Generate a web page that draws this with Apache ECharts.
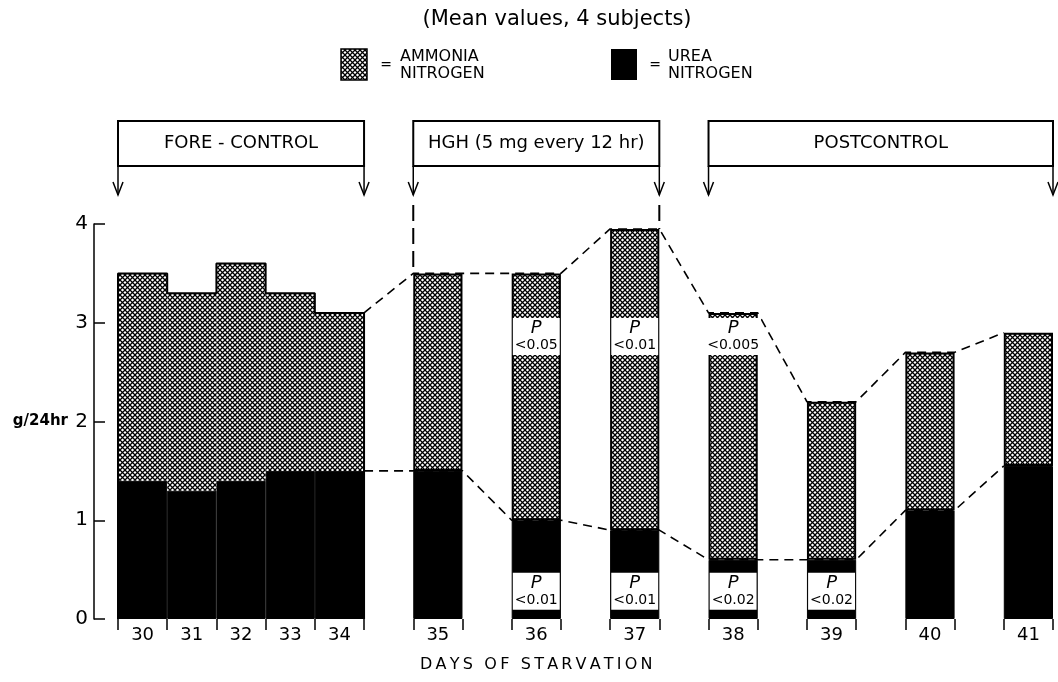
<!DOCTYPE html>
<html>
<head>
<meta charset="utf-8">
<script src="https://cdn.jsdelivr.net/npm/echarts@6/dist/echarts.min.js"></script>
<style>
  html, body { margin: 0; background: #fff; }
  #chart { width: 1058px; height: 682px; }
</style>
</head>
<body>
<div id="chart"></div>
<script>
'use strict';

// days of starvation, one bar each
const days = ['30', '31', '32', '33', '34', '35', '36', '37', '38', '39', '40', '41'];
// fore-control days sit side by side, every later day gets a gap before it
const foreControlDays = ['30', '31', '32', '33', '34'];
// top of each bar (total) and the urea part, g/24hr
const totalN = [3.5, 3.3, 3.6, 3.3, 3.1, 3.5, 3.5, 3.95, 3.1, 2.2, 2.7, 2.9];
const ureaN = [1.4, 1.3, 1.4, 1.5, 1.5, 1.5, 1.0, 0.9, 0.6, 0.6, 1.1, 1.55];

// P notes written on the bars
const pAmmoniaDays = ['36', '37', '38'];
const pAmmoniaText = ['<0.05', '<0.01', '<0.005'];
const pUreaDays = ['36', '37', '38', '39'];
const pUreaText = ['<0.01', '<0.01', '<0.02', '<0.02'];
const pAmmoniaLevel = 2.86;
const pUreaLevel = 0.28;

// periods drawn over the bars
const periodNames = ['FORE - CONTROL', 'HGH (5 mg every 12 hr)', 'POSTCONTROL'];
const periodFirst = ['30', '35', '38'];
const periodLast = ['34', '37', '41'];

const FONT = 'DejaVu Sans';

// crosshatch tile for ammonia
const tile = document.createElement('canvas');
tile.width = 5;
tile.height = 5;
(function() {
  const c = tile.getContext('2d');
  c.fillStyle = '#fff';
  c.fillRect(0, 0, 5, 5);
  c.strokeStyle = '#000';
  c.lineWidth = 1.25;
  c.beginPath();
  c.moveTo(0, 0); c.lineTo(5, 5);
  c.moveTo(5, 0); c.lineTo(0, 5);
  c.stroke();
})();
const hatch = { image: tile, repeat: 'repeat' };

// slots on the x axis (gaps are empty slots)
const slots = [];
const slotOf = {};
days.forEach(d => {
  if (slots.length && foreControlDays.indexOf(d) < 0) slots.push('gap' + slots.length);
  slotOf[d] = slots.length;
  slots.push(d);
});

const ureaData = slots.map(s => {
  const i = days.indexOf(s);
  return i < 0 ? '-' : ureaN[i];
});
const ammoniaData = slots.map(s => {
  const i = days.indexOf(s);
  if (i < 0) return '-';
  return {
    value: +(totalN[i] - ureaN[i]).toFixed(2),
    itemStyle: { borderWidth: foreControlDays.indexOf(s) < 0 ? 2 : 0 }
  };
});

// outline round the fore-control block
const outline = [];
foreControlDays.forEach((d, k) => {
  const i = days.indexOf(d);
  const s = slotOf[d];
  if (k === 0) outline.push([s - 0.5, 0]);
  outline.push([s - 0.5, totalN[i]], [s + 0.5, totalN[i]]);
  if (k === foreControlDays.length - 1) outline.push([s + 0.5, 0]);
});

// dashed joins from the last fore-control day on
function joins(vals) {
  const pts = [];
  const start = days.indexOf(foreControlDays[foreControlDays.length - 1]);
  for (let i = start; i < days.length; i++) {
    const s = slotOf[days[i]];
    if (i > start) pts.push([s - 0.5, vals[i]]);
    if (i < days.length - 1) pts.push([s + 0.5, vals[i]]);
  }
  return pts;
}

const pLabel = {
  show: true,
  position: 'inside',
  backgroundColor: '#fff',
  padding: [2, 2, 1, 2],
  color: '#000',
  opacity: 1,
  rich: {
    p: { fontFamily: FONT, fontStyle: 'italic', fontSize: 18, lineHeight: 17, align: 'center', color: '#000' },
    v: { fontFamily: FONT, fontSize: 14, lineHeight: 17, align: 'center', color: '#000' }
  }
};

const chart = echarts.init(document.getElementById('chart'), null, { renderer: 'canvas' });

chart.setOption({
  animation: false,
  grid: { left: 118, right: 5, top: 224, bottom: 63 },
  xAxis: [{
    type: 'category',
    data: slots,
    boundaryGap: true,
    axisLine: { show: false },
    axisTick: { show: true, interval: 0, length: 11, lineStyle: { color: '#000', width: 1.5 } },
    axisLabel: {
      interval: 0,
      margin: 7,
      color: '#000',
      fontFamily: FONT,
      fontSize: 18,
      formatter: v => (v.indexOf('gap') === 0 ? '' : v)
    },
    splitLine: { show: false }
  }, {
    type: 'value',
    min: -0.5,
    max: slots.length - 0.5,
    show: false
  }],
  yAxis: {
    type: 'value',
    min: 0,
    max: 4,
    interval: 1,
    offset: 24,
    axisLine: { show: true, onZero: false, lineStyle: { color: '#000', width: 1.5 } },
    axisTick: { show: true, inside: true, length: 11, lineStyle: { color: '#000', width: 1.5 } },
    axisLabel: { color: '#000', fontFamily: FONT, fontSize: 20, margin: 6 },
    splitLine: { show: false }
  },
  series: [{
    name: 'UREA NITROGEN',
    type: 'bar',
    stack: 'n',
    barWidth: '100%',
    z: 3,
    itemStyle: { color: '#000', borderColor: '#000', borderWidth: 1 },
    data: ureaData
  }, {
    name: 'AMMONIA NITROGEN',
    type: 'bar',
    stack: 'n',
    barWidth: '100%',
    z: 3,
    itemStyle: { color: hatch, borderColor: '#000', borderWidth: 2 },
    data: ammoniaData
  }, {
    type: 'line',
    xAxisIndex: 1,
    z: 4,
    symbol: 'none',
    lineStyle: { color: '#000', width: 2 },
    data: outline
  }, {
    type: 'line',
    xAxisIndex: 1,
    z: 1,
    symbol: 'none',
    lineStyle: { color: '#000', width: 1.6, type: [9, 6] },
    data: joins(totalN)
  }, {
    type: 'line',
    xAxisIndex: 1,
    z: 1,
    symbol: 'none',
    lineStyle: { color: '#000', width: 1.6, type: [9, 6] },
    data: joins(ureaN)
  }, {
    type: 'scatter',
    xAxisIndex: 1,
    z: 6,
    symbolSize: 0,
    itemStyle: { opacity: 1 },
    label: Object.assign({}, pLabel, {
      formatter: p => '{p|P}\n{v|' + pAmmoniaText[p.dataIndex] + '}'
    }),
    data: pAmmoniaDays.map(d => [slotOf[d], pAmmoniaLevel])
  }, {
    type: 'scatter',
    xAxisIndex: 1,
    z: 6,
    symbolSize: 0,
    itemStyle: { opacity: 1 },
    label: Object.assign({}, pLabel, {
      formatter: p => '{p|P}\n{v|' + pUreaText[p.dataIndex] + '}'
    }),
    data: pUreaDays.map(d => [slotOf[d], pUreaLevel])
  }]
});

// period boxes, arrows, legend and titles
const px = v => chart.convertToPixel({ xAxisIndex: 1 }, v);
const py = v => chart.convertToPixel({ yAxisIndex: 0 }, v);
const boxTop = 121, boxBottom = 166, arrowTip = 195;
const g = [];

periodNames.forEach((name, k) => {
  const x1 = px(slotOf[periodFirst[k]] - 0.5);
  const x2 = px(slotOf[periodLast[k]] + 0.5);
  g.push({
    type: 'rect',
    shape: { x: x1, y: boxTop, width: x2 - x1, height: boxBottom - boxTop },
    style: { fill: '#fff', stroke: '#000', lineWidth: 2 }
  });
  g.push({
    type: 'text',
    x: (x1 + x2) / 2,
    y: (boxTop + boxBottom) / 2,
    style: { text: name, fill: '#000', font: '18px "' + FONT + '"', align: 'center', verticalAlign: 'middle' }
  });
  [x1, x2].forEach(x => {
    g.push({
      type: 'line',
      shape: { x1: x, y1: boxBottom, x2: x, y2: arrowTip },
      style: { stroke: '#000', lineWidth: 1.5 }
    });
    g.push({
      type: 'polyline',
      shape: { points: [[x - 5, arrowTip - 13], [x, arrowTip], [x + 5, arrowTip - 13]] },
      style: { stroke: '#000', lineWidth: 1.5, fill: null }
    });
  });
});

// dashed drop lines from the HGH arrows to the bar tops
[[slotOf['35'] - 0.5, totalN[days.indexOf('35')]], [slotOf['37'] + 0.5, totalN[days.indexOf('37')]]].forEach(p => {
  g.push({
    type: 'line',
    shape: { x1: px(p[0]), y1: arrowTip + 10, x2: px(p[0]), y2: py(p[1]) },
    style: { stroke: '#000', lineWidth: 2, lineDash: [16, 7] }
  });
});

// unit next to the 2 on the y axis
g.push({
  type: 'text', x: 68, y: py(2),
  style: { text: 'g/24hr', fill: '#000', font: 'bold 15px "' + FONT + '"', align: 'right', verticalAlign: 'middle' }
});

// legend
g.push(
  { type: 'rect', shape: { x: 341, y: 49, width: 26, height: 31 }, style: { fill: hatch, stroke: '#000', lineWidth: 1.5 } },
  { type: 'text', x: 386, y: 65, style: { text: '=', fill: '#000', font: '14px "' + FONT + '"', align: 'center', verticalAlign: 'middle' } },
  { type: 'text', x: 400, y: 65, style: { text: 'AMMONIA\nNITROGEN', fill: '#000', font: '16px "' + FONT + '"', lineHeight: 17, verticalAlign: 'middle' } },
  { type: 'rect', shape: { x: 611, y: 49, width: 26, height: 31 }, style: { fill: '#000' } },
  { type: 'text', x: 655, y: 65, style: { text: '=', fill: '#000', font: '14px "' + FONT + '"', align: 'center', verticalAlign: 'middle' } },
  { type: 'text', x: 668, y: 65, style: { text: 'UREA\nNITROGEN', fill: '#000', font: '16px "' + FONT + '"', lineHeight: 17, verticalAlign: 'middle' } }
);

g.push({
  type: 'text', x: 557, y: 20,
  style: { text: '(Mean values, 4 subjects)', fill: '#000', font: '21px "' + FONT + '"', align: 'center', verticalAlign: 'middle' }
});
g.push({
  type: 'text', x: px(slotOf['36']), y: 665,
  style: { text: 'DAYS OF STARVATION'.split('').join('\u2009'), fill: '#000', font: '16px "' + FONT + '"', align: 'center', verticalAlign: 'middle' }
});

chart.setOption({ graphic: g });
</script>
</body>
</html>
